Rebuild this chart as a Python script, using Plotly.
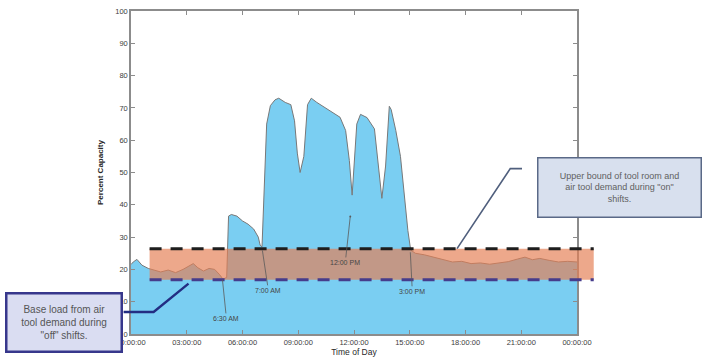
import plotly.graph_objects as go

# ---------------- data ----------------
hours = [0.0, 0.12, 0.32, 0.59, 0.93, 1.2, 1.6, 2.0, 2.4, 2.8, 3.1, 3.35, 3.6, 3.9, 4.2, 4.5,
         4.75, 4.95, 5.15, 5.25, 5.4, 5.7, 6.0, 6.3, 6.6, 6.85, 6.95, 7.05, 7.3, 7.5, 7.75,
         7.95, 8.3, 8.6, 8.8, 8.95, 9.1, 9.3, 9.5, 9.7, 10.0, 10.4, 10.9, 11.25, 11.55, 11.75,
         11.9, 12.15, 12.35, 12.7, 13.1, 13.3, 13.5, 13.7, 13.9, 14.0, 14.25, 14.5, 14.7, 14.9,
         15.05, 15.3, 15.8, 16.3, 16.8, 17.3, 17.8, 18.3, 18.8, 19.3, 19.8, 20.3, 20.8, 21.2,
         21.6, 22.0, 22.5, 23.0, 23.5, 24.0]
percent = [21.5, 22.3, 23.1, 21.3, 20.3, 19.8, 19.2, 19.8, 19.0, 20.0, 21.0, 21.8, 20.5, 19.5, 20.3, 20.0,
           18.5, 17.0, 17.5, 36.5, 37.0, 36.5, 35.0, 34.0, 32.5, 30.0, 27.5, 27.0, 65.0, 70.7, 72.5,
           73.0, 71.7, 71.0, 66.0, 56.0, 50.0, 55.0, 71.0, 73.0, 71.7, 70.2, 68.6, 67.1, 63.0, 53.7,
           43.0, 65.0, 68.0, 67.0, 63.5, 53.0, 42.0, 52.0, 70.5, 69.5, 63.0, 55.0, 44.0, 32.0,
           26.0, 25.0, 24.5, 23.8, 23.0, 22.3, 22.5, 21.8, 22.0, 21.6, 22.0, 22.4, 23.2, 23.8,
           23.0, 23.4, 22.8, 22.3, 22.5, 22.3]

tick_hours = [0, 3, 6, 9, 12, 15, 18, 21, 24]
tick_labels = ["00:00:00", "03:00:00", "06:00:00", "09:00:00", "12:00:00",
               "15:00:00", "18:00:00", "21:00:00", "00:00:00"]
y_ticks = [0, 10, 20, 30, 40, 50, 60, 70, 80, 90, 100]

band_lower = 16.8
band_upper = 26.4
band_start_hour = 1.0
band_end_hour = 24.9

event_labels = ["6:30 AM", "7:00 AM", "12:00 PM", "3:00 PM"]
event_hours = [4.92, 7.07, 11.8, 15.03]
event_values = [16.9, 25.9, 36.4, 25.3]

upper_note = "Upper bound of tool room and<br>air tool demand during \"on\"<br>shifts."
lower_note = "Base load from air<br>tool demand during<br>\"off\" shifts."

# ---------------- figure ----------------
X_MAX = 24.0
FONT = "Liberation Sans, Arial, sans-serif"
fig = go.Figure()
fig.add_trace(go.Scatter(
    x=hours, y=percent, mode="lines", fill="tozeroy",
    fillcolor="rgb(122,206,242)", line=dict(color="rgb(120,120,120)", width=1),
    showlegend=False, hoverinfo="skip"))

bx0 = band_start_hour / X_MAX
bx1 = band_end_hour / X_MAX
shapes = [
    dict(type="rect", xref="paper", yref="y", x0=bx0, x1=bx1, y0=band_lower, y1=band_upper,
         fillcolor="rgb(228,127,84)", opacity=0.68, line=dict(width=0), layer="above"),
    dict(type="line", xref="paper", yref="y", x0=bx0, x1=bx1, y0=band_upper, y1=band_upper,
         line=dict(color="rgb(30,30,30)", width=3.2, dash="12px,9px"), layer="above"),
    dict(type="line", xref="paper", yref="y", x0=bx0, x1=bx1, y0=band_lower, y1=band_lower,
         line=dict(color="rgb(70,60,140)", width=3.2, dash="12px,9px"), layer="above"),
    # callout leader lines
    dict(type="path", xref="paper", yref="paper",
         path="M -0.0166,0.0681 L 0.0507,0.0681 L 0.129,0.156",
         line=dict(color="rgb(35,45,130)", width=2.4), layer="above"),
    dict(type="path", xref="paper", yref="paper",
         path="M 0.8767,0.512 L 0.8504,0.512 L 0.731,0.2644",
         line=dict(color="rgb(80,95,125)", width=1.6), layer="above"),
]

offsets = [(4, 39), (6, 40), (-5, 46), (2, 39)]
heads = [0, 0, 6, 0]
annotations = []
for lab, h, v, (ax, ay), hd in zip(event_labels, event_hours, event_values, offsets, heads):
    annotations.append(dict(
        x=h, y=v, xref="x", yref="y", text=lab, showarrow=True,
        ax=ax, ay=ay, arrowhead=hd, arrowsize=0.6, arrowwidth=0.8,
        arrowcolor="rgb(90,90,90)",
        font=dict(family=FONT, size=7, color="rgb(70,70,70)")))

annotations.append(dict(
    x=1.096, y=0.4526, xref="paper", yref="paper", xanchor="center", yanchor="middle",
    text=upper_note, showarrow=False, align="center",
    width=158, height=54, bgcolor="rgb(216,224,238)", bordercolor="rgb(90,105,135)",
    borderwidth=1.5, borderpad=2,
    font=dict(family=FONT, size=9, color="rgb(95,95,95)")))
annotations.append(dict(
    x=-0.1496, y=0.0347, xref="paper", yref="paper", xanchor="center", yanchor="middle",
    text=lower_note, showarrow=False, align="center",
    width=109, height=52, bgcolor="rgb(218,221,242)", bordercolor="rgb(55,55,140)",
    borderwidth=2.5, borderpad=2,
    font=dict(family=FONT, size=10, color="rgb(85,85,85)")))

axis_font = dict(family=FONT, size=7.5, color="rgb(60,60,60)")
fig.update_layout(
    width=704, height=364,
    margin=dict(l=131, r=127, t=11, b=30, pad=0),
    paper_bgcolor="white", plot_bgcolor="white",
    shapes=shapes, annotations=annotations,
    xaxis=dict(range=[0, X_MAX], tickvals=tick_hours, ticktext=tick_labels,
               automargin=False,
               showgrid=False, zeroline=False, showline=True, mirror="ticks",
               linecolor="rgb(140,140,140)", linewidth=1.5,
               ticks="inside", ticklen=4, tickcolor="rgb(140,140,140)",
               tickfont=axis_font,
               title=dict(text="Time of Day", font=dict(family=FONT, size=8.5, color="rgb(40,40,40)"),
                          standoff=1)),
    yaxis=dict(range=[0, 100], tickvals=y_ticks,
               automargin=False,
               showgrid=False, zeroline=False, showline=True, mirror="ticks",
               linecolor="rgb(140,140,140)", linewidth=1.5,
               ticks="inside", ticklen=4, tickcolor="rgb(140,140,140)",
               tickfont=axis_font,
               title=dict(text="<b>Percent Capacity</b>", font=dict(family=FONT, size=8, color="rgb(40,40,40)"),
                          standoff=10)),
)

fig.write_html("out.html", config={"displayModeBar": False},
               post_script="document.body.style.margin='0';")
